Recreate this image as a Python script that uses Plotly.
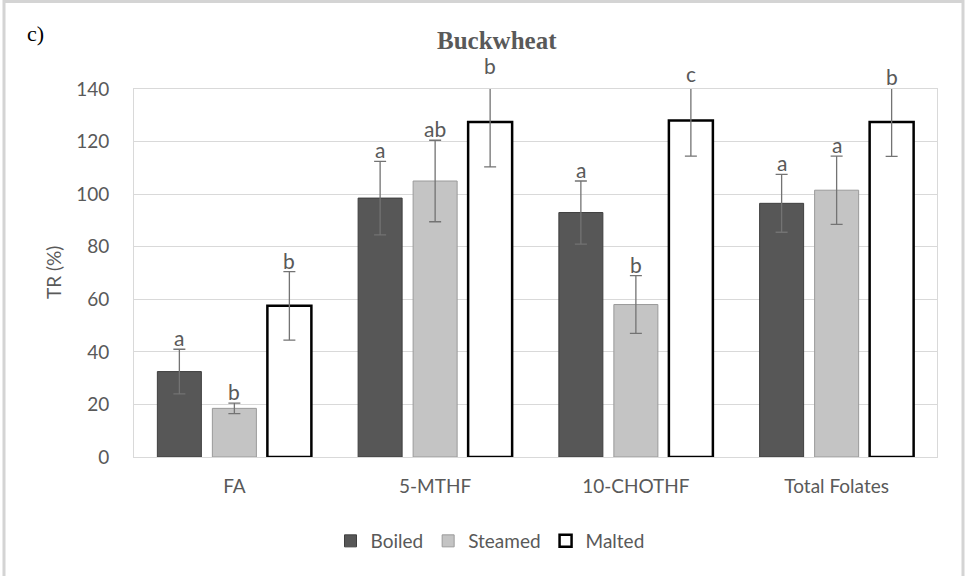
import plotly.graph_objects as go

categories = ["FA", "5-MTHF", "10-CHOTHF", "Total Folates"]
series = ["Boiled", "Steamed", "Malted"]
boiled = [32.5, 98.5, 93.0, 96.5]
boiled_err = [8.5, 14.0, 12.0, 11.0]
steamed = [18.5, 105.0, 58.0, 101.5]
steamed_err = [2.0, 15.5, 11.0, 13.0]
malted = [57.5, 127.4, 128.0, 127.4]
malted_err = [13.0, 17.0, 13.5, 13.0]
letters_boiled = ["a", "a", "a", "a"]
letters_steamed = ["b", "ab", "b", "a"]
letters_malted = ["b", "b", "c", "b"]
YMAX = 140

FONT = "Lato, Carlito, Calibri, sans-serif"
GRAY = "#595959"

W, H = 965, 576
L, R, T, B = 134, 937, 89, 457

fig = go.Figure()
styles = [
    dict(color="#575757", line=dict(color="#3f3f3f", width=1)),
    dict(color="#c4c4c4", line=dict(color="#9a9a9a", width=1)),
    dict(color="#ffffff", line=dict(color="#000000", width=2.5)),
]
vals = [boiled, steamed, malted]
errs = [boiled_err, steamed_err, malted_err]
for name, v, e, st in zip(series, vals, errs, styles):
    fig.add_trace(go.Bar(
        name=name, x=categories, y=v, marker=st,
        error_y=dict(type="data", array=e, visible=True, color="#737373",
                     thickness=1.3, width=6),
    ))

annotations = []
shifts = [-55, 0, 55]
for letters, v, e, sh in zip([letters_boiled, letters_steamed, letters_malted], vals, errs, shifts):
    for c, lab, val, er in zip(categories, letters, v, e):
        # letters placed at the top of each error bar (paper y so that they
        # stay visible above the axis range, as in the original)
        annotations.append(dict(x=c, y=(val + er) / YMAX, xref="x", yref="paper", text=lab,
                                showarrow=False, xshift=sh, yanchor="bottom", yshift=-3,
                                font=dict(family=FONT, size=21, color=GRAY)))

pw, ph = R - L, B - T
def px(x):
    return (x - L) / pw
def py(y):
    return (B - y) / ph

annotations.append(dict(x=px(497), y=py(40), xref="paper", yref="paper", text="<b>Buckwheat</b>",
                        showarrow=False, xanchor="center", yanchor="middle",
                        font=dict(family="Liberation Serif, Times New Roman, serif", size=25, color=GRAY)))
annotations.append(dict(x=px(25), y=py(33), xref="paper", yref="paper", text="c)",
                        showarrow=False, xanchor="left", yanchor="middle",
                        font=dict(family="Liberation Serif, Times New Roman, serif", size=22, color="#000000")))
annotations.append(dict(x=px(53), y=py(273), xref="paper", yref="paper", text="TR (%)",
                        showarrow=False, xanchor="center", yanchor="middle", textangle=-90,
                        font=dict(family=FONT, size=19, color=GRAY)))

shapes = [dict(type="rect", xref="paper", yref="paper", x0=px(4), x1=px(963), y0=py(580), y1=py(1.5),
               line=dict(color="#d4d4d4", width=3), layer="below")]

fig.update_layout(
    width=W, height=H,
    margin=dict(l=L, r=W - R, t=T, b=H - B, autoexpand=False),
    paper_bgcolor="white", plot_bgcolor="white",
    barmode="group", bargap=0.178, bargroupgap=0.2,
    showlegend=True,
    legend=dict(orientation="h", x=px(490), y=py(541), xanchor="center", yanchor="middle",
                font=dict(family=FONT, size=19, color=GRAY), traceorder="normal",
                itemwidth=30),
    annotations=annotations,
    shapes=shapes,
    font=dict(family=FONT, color=GRAY),
)
fig.update_yaxes(range=[0, YMAX], dtick=20, showgrid=True, gridcolor="#d9d9d9", gridwidth=1,
                 zeroline=False, showline=True, linecolor="#d9d9d9", mirror=True,
                 ticks="", ticklabelstandoff=20,
                 tickfont=dict(family=FONT, size=19, color=GRAY))
fig.update_xaxes(showline=True, linecolor="#d9d9d9", mirror=True, ticks="",
                 ticklabelstandoff=12,
                 tickfont=dict(family=FONT, size=19, color=GRAY))

fig.write_html("out.html", config={"displayModeBar": False},
               post_script="document.body.style.margin='0px';document.body.style.overflow='hidden';")
